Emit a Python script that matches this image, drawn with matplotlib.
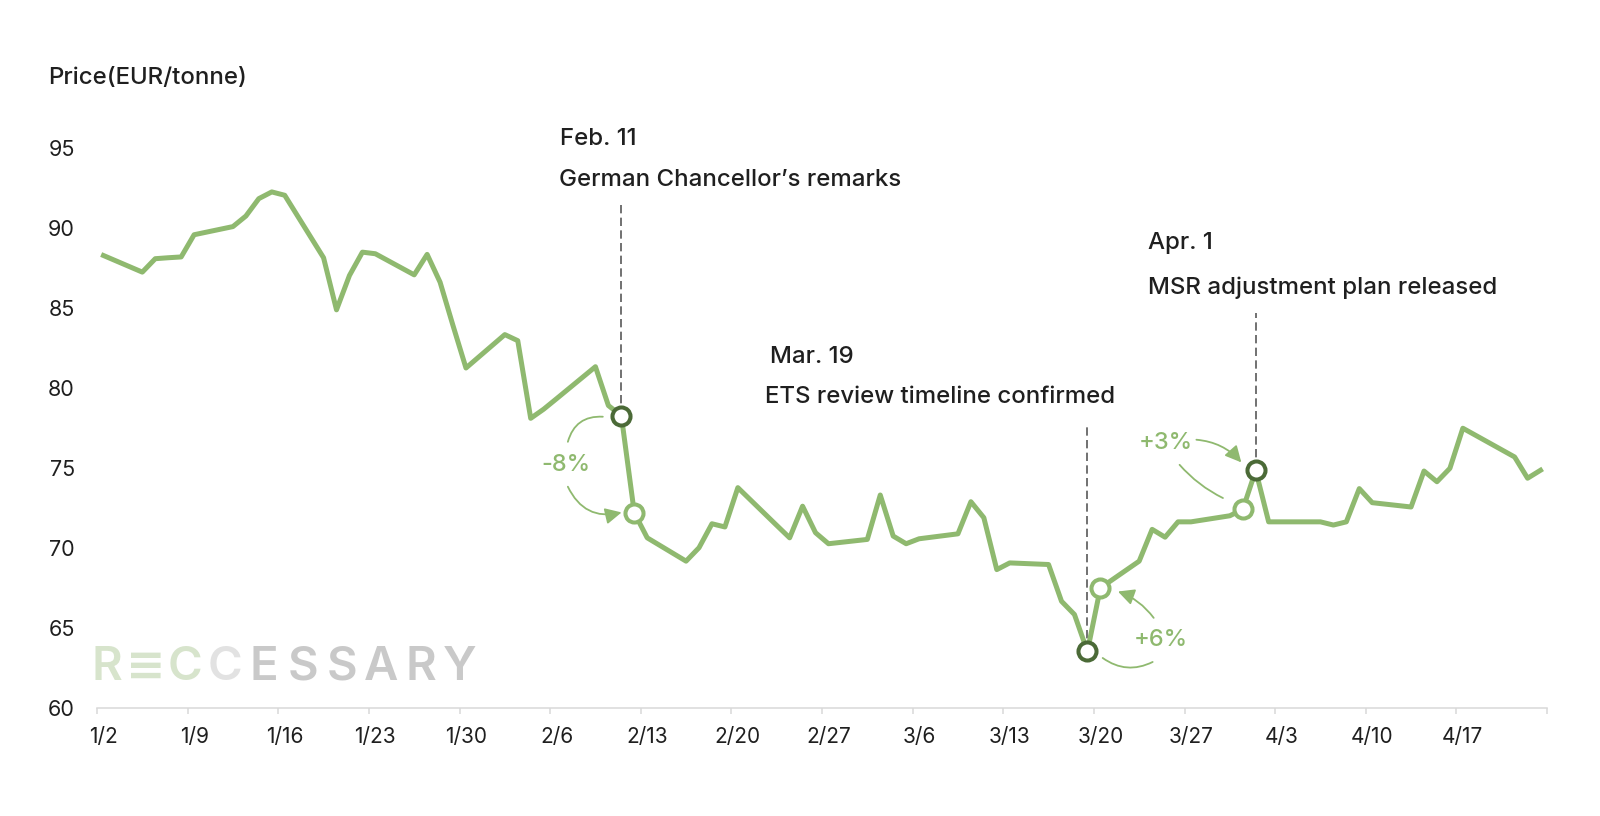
import pandas as pd
import matplotlib.pyplot as plt

# EUA price, trading days 2026
dates = ["1/2", "1/5", "1/6", "1/7", "1/8", "1/9", "1/12", "1/13", "1/14", "1/15", "1/16",
         "1/19", "1/20", "1/21", "1/22", "1/23", "1/26", "1/27", "1/28", "1/29", "1/30",
         "2/2", "2/3", "2/4", "2/5", "2/6", "2/9", "2/10", "2/11", "2/12", "2/13",
         "2/16", "2/17", "2/18", "2/19", "2/20", "2/23", "2/24", "2/25", "2/26", "2/27",
         "3/2", "3/3", "3/4", "3/5", "3/6", "3/9", "3/10", "3/11", "3/12", "3/13",
         "3/16", "3/17", "3/18", "3/19", "3/20", "3/23", "3/24", "3/25", "3/26", "3/27",
         "3/30", "3/31", "4/1", "4/2", "4/6", "4/7", "4/8", "4/9", "4/10",
         "4/13", "4/14", "4/15", "4/16", "4/17", "4/20", "4/21", "4/22", "4/23"]
prices = [88.29, 87.25, 88.09, 88.15, 88.20, 89.59, 90.10, 90.76, 91.85, 92.27, 92.06,
          88.15, 84.89, 87.04, 88.50, 88.40, 87.08, 88.36, 86.62, 83.90, 81.25,
          83.34, 82.96, 78.10, 78.67, 79.33, 81.33, 78.90, 78.26, 72.19, 70.62,
          69.16, 70.00, 71.50, 71.30, 73.76, 71.40, 70.62, 72.60, 70.94, 70.25,
          70.52, 73.30, 70.73, 70.25, 70.56, 70.87, 72.88, 71.88, 68.63, 69.05,
          68.95, 66.65, 65.82, 63.51, 67.48, 69.16, 71.15, 70.66, 71.62, 71.62,
          72.00, 72.40, 74.84, 71.62, 71.62, 71.42, 71.62, 73.70, 72.82,
          72.55, 74.80, 74.13, 74.97, 77.48, 76.13, 75.68, 74.35, 74.85]

week_labels = ["1/2", "1/9", "1/16", "1/23", "1/30", "2/6", "2/13", "2/20", "2/27",
               "3/6", "3/13", "3/20", "3/27", "4/3", "4/10", "4/17"]
y_ticks = [60, 65, 70, 75, 80, 85, 90, 95]

# events: (date, title, description)
events = [("2/11", "Feb. 11", "German Chancellor’s remarks"),
          ("3/19", "Mar. 19", "ETS review timeline confirmed"),
          ("4/1", "Apr. 1", "MSR adjustment plan released")]
reaction_days = ["2/12", "3/20", "3/31"]

GREEN = "#8fb96f"
DARK = "#4b6a37"
TXT = "#1f1f1f"
AXIS = "#d9d9d9"
FONT = ["Inter", "DejaVu Sans"]

plt.rcParams["font.family"] = FONT

start = pd.Timestamp(2026, 1, 2)


def day_of(d):
    m, dd = d.split("/")
    return (pd.Timestamp(2026, int(m), int(dd)) - start).days


x = [day_of(d) for d in dates]

fig = plt.figure(figsize=(16, 8.16), dpi=100)
ax = fig.add_axes([97 / 1600, 108.5 / 816, 1450 / 1600, 559.2 / 816])

ax.plot(x, prices, color=GREEN, lw=3.6, solid_joinstyle="round", zorder=3)

ax.set_xlim(-0.5, 111.5)
ax.set_ylim(60, 95)

# ticks at week boundaries, labels centered on the days
ax.set_xticks([day_of(d) - 0.5 for d in week_labels] + [111.5])
ax.set_xticklabels([])
ax.set_xticks([day_of(d) for d in week_labels], minor=True)
ax.set_xticklabels(week_labels, minor=True)
ax.tick_params(axis="x", which="major", length=4.5, width=1.1, color=AXIS)
ax.tick_params(axis="x", which="minor", length=0, pad=14, labelsize=15, labelcolor=TXT)
ax.set_yticks(y_ticks)
ax.tick_params(axis="y", length=0, pad=16, labelsize=15.5, labelcolor=TXT)

for s in ["top", "right", "left"]:
    ax.spines[s].set_visible(False)
ax.spines["bottom"].set_color(AXIS)
ax.spines["bottom"].set_linewidth(1.1)

fig.text(48 / 1600, 1 - 78 / 816, "Price(EUR/tonne)", fontsize=17.3, color=TXT,
         ha="left", va="center", fontweight="medium")

# event markers, dashed guides and labels
dash_tops = [91.6, 77.6, 84.7]
title_pos = [(35.25, 95.56), (51.47, 81.96), (80.65, 89.1)]
desc_pos = [(35.17, 92.99), (51.08, 79.45), (80.65, 86.28)]
for (d, title, desc), top, tp, dp in zip(events, dash_tops, title_pos, desc_pos):
    i = dates.index(d)
    ax.plot([x[i], x[i]], [prices[i], top], color="#595959", lw=1.2,
            dashes=(5, 2.6), zorder=2, clip_on=False)
    ax.plot(x[i], prices[i], "o", ms=13, mfc="white", mec=DARK, mew=2.9, zorder=5)
    ax.text(tp[0], tp[1], title, fontsize=17.3, color=TXT, ha="left", va="center",
            fontweight="medium")
    ax.text(dp[0], dp[1], desc, fontsize=17.3, color=TXT, ha="left", va="center",
            fontweight="medium")

for d in reaction_days:
    i = dates.index(d)
    ax.plot(x[i], prices[i], "o", ms=13, mfc="white", mec=GREEN, mew=2.9, zorder=5)

# change labels and curved arrows
for tx, ty, s in [(35.7, 75.19, "-8%"), (81.7, 64.23, "+6%"), (82.04, 76.57, "+3%")]:
    ax.text(tx, ty, s, fontsize=17, color=GREEN, ha="center", va="center",
            fontweight="medium")

head = "-|>,head_length=0.7,head_width=0.35"
arcs = [
    ((38.57, 78.20), (35.87, 76.63), "-", 0.4),
    ((35.87, 73.82), (40.02, 72.21), head, 0.4),
    ((77.18, 63.10), (81.04, 62.85), "-", 0.3),
    ((81.12, 65.61), (78.36, 67.26), head, 0.15),
    ((84.42, 76.76), (87.89, 75.34), head, -0.2),
    ((86.47, 73.11), (83.12, 75.19), "-", -0.1),
]
for a, b, style, rad in arcs:
    ax.annotate("", xy=b, xytext=a,
                arrowprops=dict(arrowstyle=style, color=GREEN, lw=1.3,
                                connectionstyle=f"arc3,rad={rad}",
                                shrinkA=0, shrinkB=0, mutation_scale=14))

# watermark
letters = ["R", "≡", "C", "C", "E", "S", "S", "A", "R", "Y"]
colors = ["#d7e4cc"] * 3 + ["#e2e2e2"] + ["#c9c9c9"] * 6
for k, (ch, c) in enumerate(zip(letters, colors)):
    fig.text((107 + k * 39.2) / 1600, 1 - 668 / 816, ch, fontsize=34, color=c,
             ha="center", va="center", fontweight="semibold", family=FONT)

fig.savefig("out.png", dpi=100, facecolor="white")
